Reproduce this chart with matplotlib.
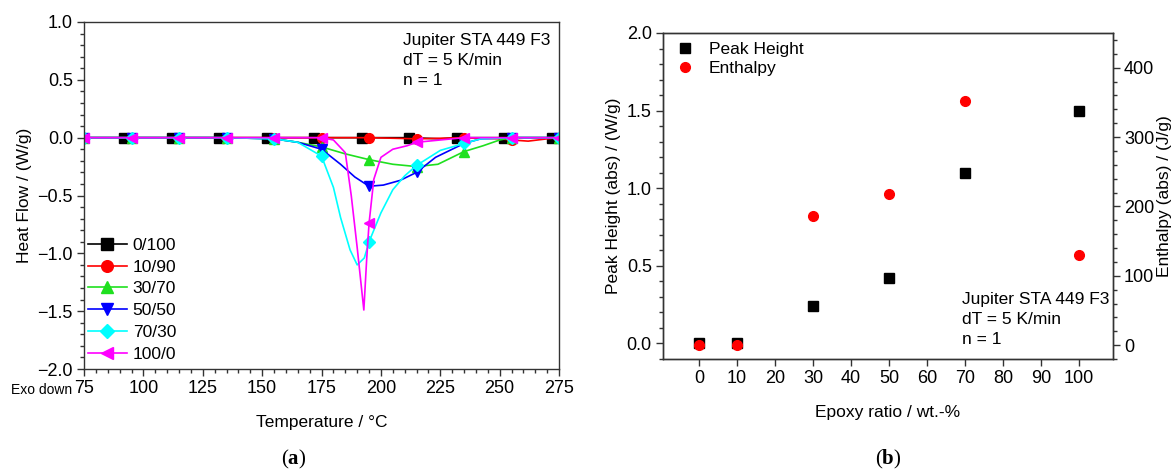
import numpy as np
import matplotlib
matplotlib.use("Agg")
import matplotlib.pyplot as plt
from matplotlib.ticker import MultipleLocator

plt.rcParams['font.family'] = ['Liberation Sans', 'DejaVu Sans']
plt.rcParams['mathtext.fontset'] = 'custom'
plt.rcParams['mathtext.bf'] = 'Liberation Serif:bold'

# ---- panel (a): DSC curves ----
black_T = [75, 92, 112, 132, 152, 172, 192, 212, 225, 232, 252, 272, 275]
black_HF = [0, 0, 0, 0, 0, 0, 0, 0, -0.01, 0, 0, 0, 0]
black_marks = [92, 112, 132, 152, 172, 192, 212, 232, 252, 272]

red_T = [75, 95, 115, 135, 155, 175, 195, 215, 235, 250, 255, 262, 270, 275]
red_HF = [0, 0, 0, 0, 0, 0, 0, -0.01, 0, -0.01, -0.02, -0.03, -0.01, 0]

green_T = [75, 95, 115, 135, 155, 165, 175, 185, 195, 205, 215, 224, 235, 243, 250, 255, 275]
green_HF = [0, 0, 0, 0, -0.01, -0.04, -0.08, -0.14, -0.19, -0.23, -0.25, -0.23, -0.12, -0.07, -0.02, 0, 0]

blue_T = [75, 95, 115, 135, 155, 165, 175, 183, 189, 195, 201, 208, 215, 223, 235, 242, 255, 275]
blue_HF = [0, 0, 0, 0, -0.01, -0.04, -0.10, -0.23, -0.34, -0.42, -0.41, -0.37, -0.30, -0.17, -0.05, -0.01, 0, 0]

cyan_T = [75, 95, 115, 135, 155, 165, 175, 180, 183, 187, 190, 193, 195, 200, 205, 210, 215, 225, 235, 242, 255, 275]
cyan_HF = [0, 0, 0, 0, -0.01, -0.04, -0.16, -0.43, -0.69, -0.97, -1.10, -1.04, -0.90, -0.65, -0.45, -0.33, -0.24, -0.11, -0.05, -0.01, 0, 0]

mag_T = [75, 95, 115, 135, 155, 175, 180, 185, 187.5, 190, 192.8, 194, 195, 197, 200, 205, 211, 215, 225, 235, 255, 275]
mag_HF = [0, 0, 0, 0, 0, 0, -0.02, -0.13, -0.50, -0.95, -1.49, -1.05, -0.74, -0.36, -0.17, -0.10, -0.07, -0.04, -0.02, 0, 0, 0]

std_marks = [75, 95, 115, 135, 155, 175, 195, 215, 235, 255, 275]

series = [
    ('0/100', black_T, black_HF, black_marks, 'black', 's'),
    ('10/90', red_T, red_HF, std_marks, '#ff0000', 'o'),
    ('30/70', green_T, green_HF, std_marks, '#1fe01f', '^'),
    ('50/50', blue_T, blue_HF, std_marks, '#0000ff', 'v'),
    ('70/30', cyan_T, cyan_HF, std_marks, '#00ffff', 'D'),
    ('100/0', mag_T, mag_HF, std_marks, '#ff00ff', '<'),
]

# ---- panel (b): peak height / enthalpy ----
epoxy = [0, 10, 30, 50, 70, 100]
peak_height = [0.0, 0.0, 0.24, 0.42, 1.10, 1.50]
enthalpy = [0, 0, 186, 218, 352, 130]

spine_c = '#333333'
tick_fs = 13
txt_fs = 12.5
fig = plt.figure(figsize=(11.74, 4.74), dpi=100)

ax = fig.add_axes([0.0716, 0.2215, 0.4046, 0.7321])
for lab, T, hf, marks, c, m in series:
    idx = [i for i, t in enumerate(T) if t in marks]
    ms = 6 if m == 'D' else 7
    ax.plot(T, hf, color=c, lw=1.2, marker=m, ms=ms, markevery=idx, label=lab)

ax.set_xlim(75, 275)
ax.set_ylim(-2.0, 1.0)
ax.xaxis.set_major_locator(MultipleLocator(25))
ax.xaxis.set_minor_locator(MultipleLocator(5))
ax.yaxis.set_major_locator(MultipleLocator(0.5))
ax.yaxis.set_minor_locator(MultipleLocator(0.1))
ax.yaxis.set_major_formatter(plt.FuncFormatter(lambda v, p: f'{v:.1f}'.replace('-', '\u2212')))
ax.tick_params(which='major', direction='out', length=5, width=1, color=spine_c, labelsize=tick_fs, pad=3)
ax.tick_params(which='minor', direction='out', length=2.8, width=1, color=spine_c)
for s in ax.spines.values():
    s.set_color(spine_c)
    s.set_linewidth(1.0)
ax.set_xlabel('Temperature / \u00b0C', fontsize=txt_fs, labelpad=13)
ax.set_ylabel('Heat Flow / (W/g)', fontsize=txt_fs, labelpad=4)
ax.text(0.672, 0.968, 'Jupiter STA 449 F3\ndT = 5 K/min\nn = 1', transform=ax.transAxes,
        fontsize=txt_fs, va='top', ha='left', linespacing=1.4)
ax.legend(loc='upper left', bbox_to_anchor=(0.0, 0.388), frameon=False, fontsize=txt_fs,
          handlelength=2.3, handletextpad=0.3, labelspacing=0.38, borderaxespad=0, borderpad=0.2,
          markerscale=1.2)
fig.text(0.009, 0.177, 'Exo down', fontsize=10, va='center', ha='left')
fig.text(0.25, 0.03, r'($\mathbf{a}$)', fontsize=15, family='Liberation Serif', ha='center', va='center')

axb = fig.add_axes([0.5647, 0.2426, 0.3833, 0.6878])
ax2 = axb.twinx()
h1, = axb.plot(epoxy, peak_height, ls='none', marker='s', ms=6.5, color='black', label='Peak Height')
h2, = ax2.plot(epoxy, enthalpy, ls='none', marker='o', ms=7, color='#ff0000', label='Enthalpy')
axb.set_xlim(-9.5, 109)
axb.set_ylim(-0.1, 2.0)
ax2.set_ylim(-20, 450)
axb.set_xticks(range(0, 101, 10))
axb.yaxis.set_major_locator(MultipleLocator(0.5))
axb.yaxis.set_minor_locator(MultipleLocator(0.1))
ax2.set_yticks(range(0, 401, 100))
ax2.yaxis.set_minor_locator(MultipleLocator(20))
for a in (axb, ax2):
    a.tick_params(which='major', direction='out', length=5, width=1, color=spine_c, labelsize=tick_fs, pad=3)
    a.tick_params(which='minor', direction='out', length=2.8, width=1, color=spine_c)
    for s in a.spines.values():
        s.set_color(spine_c)
        s.set_linewidth(1.0)
axb.set_xlabel('Epoxy ratio / wt.-%', fontsize=txt_fs, labelpad=13)
axb.set_ylabel('Peak Height (abs) / (W/g)', fontsize=txt_fs, labelpad=4)
ax2.set_ylabel('Enthalpy (abs) / (J/g)', fontsize=txt_fs, labelpad=2)
axb.text(0.665, 0.205, 'Jupiter STA 449 F3\ndT = 5 K/min\nn = 1', transform=axb.transAxes,
         fontsize=txt_fs, va='top', ha='left', linespacing=1.4)
ax2.legend([h1, h2], ['Peak Height', 'Enthalpy'], loc='upper left', bbox_to_anchor=(0.01, 0.995),
           frameon=False, fontsize=txt_fs, handlelength=1.2, handletextpad=0.8, labelspacing=0.25,
           borderaxespad=0, numpoints=1)
fig.text(0.757, 0.03, r'($\mathbf{b}$)', fontsize=15, family='Liberation Serif', ha='center', va='center')

fig.savefig('out.png', dpi=100)
